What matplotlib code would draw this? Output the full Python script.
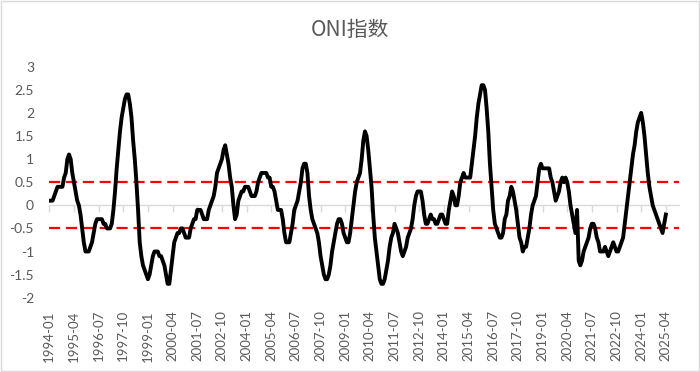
import matplotlib
matplotlib.use("Agg")
import matplotlib.pyplot as plt
import pandas as pd
from matplotlib.patches import Rectangle

plt.rcParams['font.family'] = ['Lato', 'Noto Sans CJK SC', 'DejaVu Sans']

# monthly ONI values, one row per label year (Jan..Dec), 1994-01 .. 2025-04
oni = [
    0.1, 0.1, 0.1, 0.2, 0.3, 0.4, 0.4, 0.4, 0.4, 0.6, 0.7, 1.0,        # 1994
    1.1, 1.0, 0.7, 0.5, 0.3, 0.1, 0.0, -0.2, -0.5, -0.8, -1.0, -1.0,   # 1995
    -1.0, -0.9, -0.8, -0.6, -0.4, -0.3, -0.3, -0.3, -0.3, -0.4, -0.4, -0.5,  # 1996
    -0.5, -0.5, -0.4, -0.1, 0.3, 0.8, 1.2, 1.6, 1.9, 2.1, 2.3, 2.4,    # 1997
    2.4, 2.2, 1.9, 1.4, 1.0, 0.5, -0.1, -0.8, -1.1, -1.3, -1.4, -1.5,  # 1998
    -1.6, -1.5, -1.3, -1.1, -1.0, -1.0, -1.0, -1.1, -1.1, -1.2, -1.3, -1.5,  # 1999
    -1.7, -1.7, -1.4, -1.1, -0.8, -0.7, -0.6, -0.6, -0.5, -0.5, -0.6, -0.7,  # 2000
    -0.7, -0.7, -0.5, -0.4, -0.3, -0.3, -0.1, -0.1, -0.1, -0.2, -0.3, -0.3,  # 2001
    -0.3, -0.1, 0.0, 0.1, 0.2, 0.4, 0.7, 0.8, 0.9, 1.0, 1.2, 1.3,      # 2002
    1.1, 0.9, 0.6, 0.4, 0.0, -0.3, -0.2, 0.1, 0.2, 0.3, 0.3, 0.4,      # 2003
    0.4, 0.4, 0.3, 0.2, 0.2, 0.2, 0.3, 0.5, 0.6, 0.7, 0.7, 0.7,        # 2004
    0.7, 0.6, 0.6, 0.4, 0.4, 0.3, 0.1, -0.1, -0.1, -0.1, -0.3, -0.6,   # 2005
    -0.8, -0.8, -0.8, -0.6, -0.4, -0.1, 0.0, 0.1, 0.3, 0.5, 0.8, 0.9,  # 2006
    0.9, 0.7, 0.2, -0.1, -0.3, -0.4, -0.5, -0.6, -0.8, -1.1, -1.3, -1.5,  # 2007
    -1.6, -1.6, -1.5, -1.3, -1.0, -0.8, -0.6, -0.4, -0.3, -0.3, -0.4, -0.6,  # 2008
    -0.7, -0.8, -0.8, -0.6, -0.3, 0.0, 0.3, 0.5, 0.6, 0.7, 1.0, 1.4,   # 2009
    1.6, 1.5, 1.2, 0.8, 0.4, -0.2, -0.7, -1.0, -1.3, -1.6, -1.7, -1.7,  # 2010
    -1.6, -1.4, -1.2, -0.9, -0.7, -0.6, -0.4, -0.5, -0.6, -0.8, -1.0, -1.1,  # 2011
    -1.0, -0.9, -0.7, -0.6, -0.5, -0.3, 0.0, 0.2, 0.3, 0.3, 0.3, 0.1,  # 2012
    -0.2, -0.4, -0.4, -0.3, -0.2, -0.3, -0.3, -0.4, -0.4, -0.3, -0.2, -0.2,  # 2013
    -0.3, -0.4, -0.4, -0.1, 0.1, 0.3, 0.2, 0.0, 0.0, 0.2, 0.5, 0.6,    # 2014
    0.7, 0.6, 0.6, 0.6, 0.6, 0.9, 1.2, 1.5, 1.9, 2.2, 2.4, 2.6,        # 2015
    2.6, 2.5, 2.1, 1.6, 0.9, 0.4, -0.1, -0.4, -0.5, -0.6, -0.7, -0.7,  # 2016
    -0.6, -0.3, -0.2, 0.1, 0.2, 0.4, 0.3, 0.1, -0.1, -0.4, -0.7, -0.8,  # 2017
    -1.0, -0.9, -0.9, -0.7, -0.5, -0.2, 0.0, 0.1, 0.2, 0.5, 0.8, 0.9,  # 2018
    0.8, 0.8, 0.8, 0.8, 0.8, 0.6, 0.5, 0.3, 0.1, 0.2, 0.3, 0.5,        # 2019
    0.6, 0.5, 0.6, 0.5, 0.3, 0.0, -0.2, -0.4, -0.6, -0.1, -1.2, -1.3,  # 2020
    -1.2, -1.0, -0.9, -0.8, -0.7, -0.5, -0.4, -0.4, -0.5, -0.7, -0.8, -1.0,  # 2021
    -1.0, -1.0, -0.9, -1.0, -1.1, -1.0, -0.9, -0.8, -0.9, -1.0, -1.0, -0.9,  # 2022
    -0.8, -0.7, -0.4, -0.1, 0.2, 0.5, 0.8, 1.1, 1.3, 1.6, 1.8, 1.9,    # 2023
    2.0, 1.8, 1.5, 1.1, 0.7, 0.4, 0.2, 0.0, -0.1, -0.2, -0.3, -0.4,    # 2024
    -0.5, -0.6, -0.4, -0.2,                                             # 2025
]
months = pd.date_range('1994-01', periods=len(oni), freq='MS').strftime('%Y-%m').tolist()
thresholds = [0.5, -0.5]
y_ticks = [3, 2.5, 2, 1.5, 1, 0.5, 0, -0.5, -1, -1.5, -2]
label_step = 15
n_categories = 384  # category axis runs a bit past the last value

gray = '#595959'

fig = plt.figure(figsize=(7, 3.72), dpi=100)
ax = fig.add_axes([0.0704, 0.1997, 0.8996, 0.621])

x = list(range(len(oni)))
ax.plot(x, oni, color='black', linewidth=2.8, solid_joinstyle='round', zorder=3)
for t in thresholds:
    ax.axhline(t, color='#ff0000', linewidth=1.6, dashes=(5, 2.6), zorder=2)

ax.set_xlim(0, n_categories - 1)
ax.set_ylim(-2, 3)

ax.set_yticks(y_ticks)
ax.set_yticklabels([f'{v:g}' for v in y_ticks])
ax.tick_params(axis='y', length=0, pad=11, labelsize=10, labelcolor=gray)

tick_pos = x[::label_step]
ax.set_xticks(tick_pos)
ax.set_xticklabels(months[::label_step], rotation=90)
ax.tick_params(axis='x', length=0, pad=9, labelsize=9.5, labelcolor=gray)

for s in ax.spines.values():
    s.set_visible(False)

# category axis drawn through zero, with tick marks
zero_axis = ax.secondary_xaxis(0.4)
zero_axis.set_xticks(tick_pos)
zero_axis.set_xticklabels([])
zero_axis.tick_params(axis='x', direction='out', length=5, width=1, color='#d9d9d9')
zero_axis.spines['bottom'].set_color('#d9d9d9')
zero_axis.spines['bottom'].set_linewidth(1)

fig.text(0.5, 0.919, 'ONI指数', ha='center', va='center', fontsize=15,
         color=gray, family=['Noto Sans CJK SC', 'DejaVu Sans'])

fig.patches.append(Rectangle((0.001, 0.002), 0.997, 0.996, transform=fig.transFigure,
                             fill=False, edgecolor='#d9d9d9', linewidth=1))

fig.savefig('out.png', dpi=100, facecolor='white')
